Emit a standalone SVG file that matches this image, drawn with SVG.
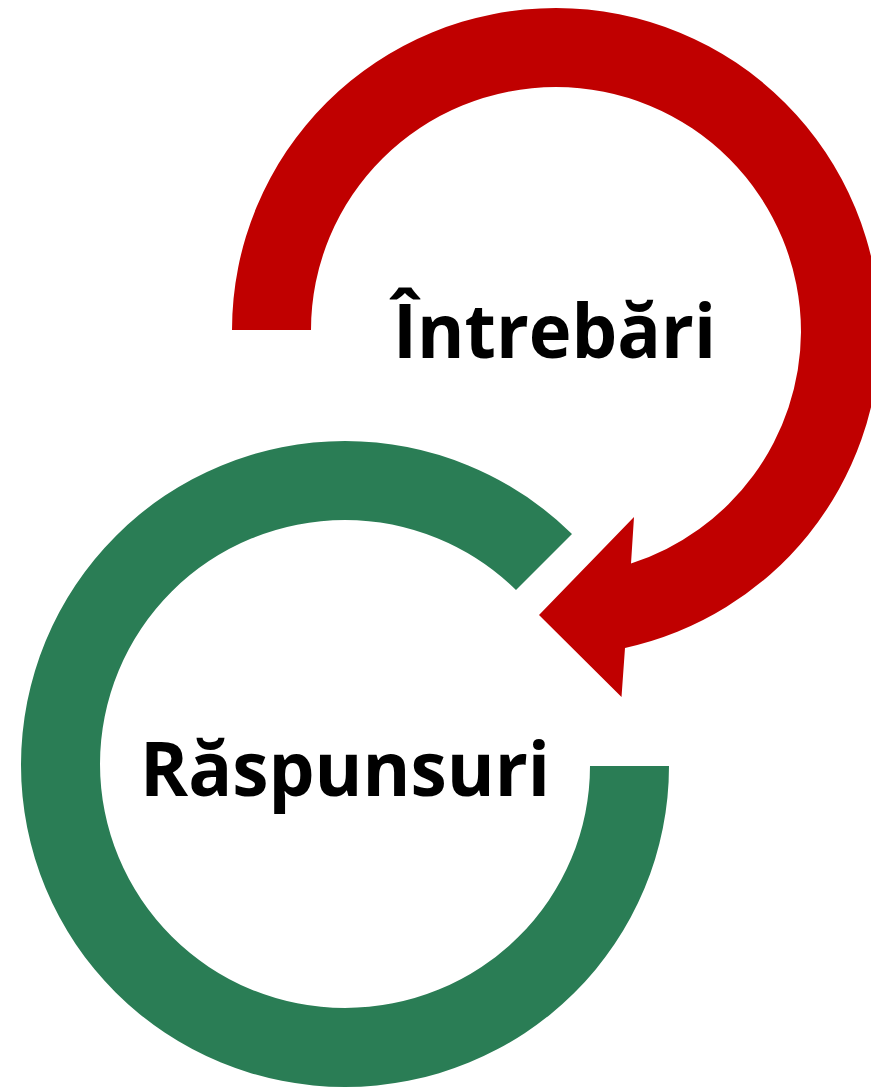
<svg xmlns="http://www.w3.org/2000/svg" width="871" height="1087" viewBox="0 0 871 1087">
<style>
.t{font-family:"Open Sans","Noto Sans","DejaVu Sans",sans-serif;font-weight:700;font-size:76px;fill:#000}
</style>
<rect width="871" height="1087" fill="#fff"/>
<g id="connectors">
<path id="red-arrow" fill="#c00000" d="M232 330A324 322 0 0 1 556 8A324 324 0 0 1 880 332A324 324 0 0 1 625 648L621.500 697L539 615L634 517L631 563.500A245 245 0 0 0 801 332A245 245 0 0 0 556 87A245 243 0 0 0 311 330Z"/>
<path id="green-arc" fill="#2a7d55" d="M572 534A324 324 0 0 0 345 441A324 324 0 0 0 21 765A324 322 0 0 0 345 1087A324 321 0 0 0 669 766L590 766A245 242 0 0 1 345 1008A245 244 0 0 1 100 764A245 244 0 0 1 345 520A245 245 0 0 1 516 590Z"/>
</g>
<g id="node-intrebari"><text class="t" x="393" y="358" textLength="323" lengthAdjust="spacingAndGlyphs">Întrebări</text></g>
<g id="node-raspunsuri"><text class="t" x="140" y="796" textLength="410" lengthAdjust="spacingAndGlyphs">Răspunsuri</text></g>
</svg>
